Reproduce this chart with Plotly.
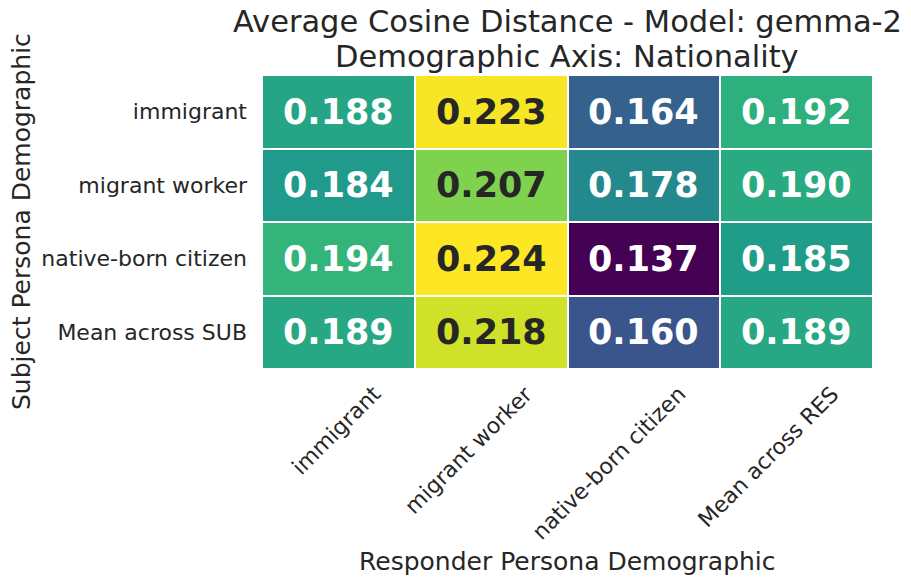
import plotly.graph_objects as go

responders = ["immigrant", "migrant worker", "native-born citizen", "Mean across RES"]
subjects = ["immigrant", "migrant worker", "native-born citizen", "Mean across SUB"]
values = [
    [0.188, 0.223, 0.164, 0.192],
    [0.184, 0.207, 0.178, 0.190],
    [0.194, 0.224, 0.137, 0.185],
    [0.189, 0.218, 0.160, 0.189],
]

FONT = "DejaVu Sans"
TXT = "#262626"
OFF = 8  # page offset of the figure inside the browser window
W, H = 911 - OFF, 584 - OFF
L, R, T, B = 262 - OFF, 873 - OFF, 75 - OFF, 369 - OFF
zmin = min(min(r) for r in values)
zmax = max(max(r) for r in values)

fig = go.Figure(go.Heatmap(
    z=values, x=responders, y=subjects,
    colorscale="Viridis", zmin=zmin, zmax=zmax, showscale=False,
    xgap=2, ygap=2, hoverinfo="skip",
))


def px(x):
    return (x - OFF - L) / (R - L)


def py(y):
    return (B - (y - OFF)) / (B - T)


ann = []
for i, s in enumerate(subjects):
    for j, r in enumerate(responders):
        v = values[i][j]
        norm = (v - zmin) / (zmax - zmin)
        ann.append(dict(x=r, y=s, text=f"<b>{v:.3f}</b>", showarrow=False,
                        font=dict(family=FONT, size=35,
                                  color=TXT if norm > 0.75 else "white")))
for r in responders:
    ann.append(dict(x=r, y=py(378), yref="paper", yanchor="top", xanchor="right",
                    xshift=50, text=r, textangle=-45, showarrow=False,
                    font=dict(family=FONT, size=22, color=TXT)))

ann.append(dict(xref="paper", yref="paper", x=px(567), y=py(22),
                xanchor="center", yanchor="middle", showarrow=False,
                text="Average Cosine Distance - Model: gemma-2",
                font=dict(family=FONT, size=30.5, color=TXT)))
ann.append(dict(xref="paper", yref="paper", x=px(567), y=py(57),
                xanchor="center", yanchor="middle", showarrow=False,
                text="Demographic Axis: Nationality",
                font=dict(family=FONT, size=30.5, color=TXT)))
ann.append(dict(xref="paper", yref="paper", x=px(567), y=py(561),
                xanchor="center", yanchor="middle", showarrow=False,
                text="Responder Persona Demographic",
                font=dict(family=FONT, size=25, color=TXT)))
ann.append(dict(xref="paper", yref="paper", x=px(21), y=py(222),
                xanchor="center", yanchor="middle", showarrow=False, textangle=-90,
                text="Subject Persona Demographic",
                font=dict(family=FONT, size=25, color=TXT)))

fig.update_layout(
    width=W, height=H,
    margin=dict(l=L, r=W - R, t=T, b=H - B, autoexpand=False),
    paper_bgcolor="white", plot_bgcolor="white",
    font=dict(family=FONT, color=TXT),
    xaxis=dict(showticklabels=False, showgrid=False, zeroline=False, ticks="",
               automargin=False),
    yaxis=dict(autorange="reversed", showgrid=False, zeroline=False, ticks="",
               automargin=False, ticklabelstandoff=14,
               tickfont=dict(family=FONT, size=22, color=TXT)),
    annotations=ann,
)
fig.write_html("out.html")
